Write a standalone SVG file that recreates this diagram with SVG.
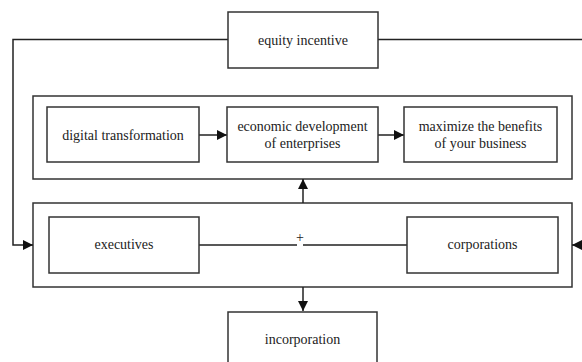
<svg xmlns="http://www.w3.org/2000/svg" width="582" height="362" viewBox="0 0 582 362">
<style>
  .box { fill: #fff; stroke: #333; stroke-width: 1.5; }
  .outer { fill: none; stroke: #333; stroke-width: 1.5; }
  .ln { fill: none; stroke: #222; stroke-width: 1.5; }
  .t { font-family: 'Times New Roman', Times, 'Liberation Serif', Tinos, 'Nimbus Roman', 'DejaVu Serif', serif; font-size: 14px; fill: #222; text-anchor: middle; }
</style>
<defs>
  <marker id="ah" viewBox="0 0 10 10" refX="10" refY="5" markerWidth="10" markerHeight="10" markerUnits="userSpaceOnUse" orient="auto">
    <path d="M0,0 L10,5 L0,10 Z" fill="#111"/>
  </marker>
</defs>
<rect width="582" height="362" fill="#fff"/>

<g id="group-top">
  <rect class="outer" x="33" y="96" width="539" height="83"/>
</g>
<g id="group-bottom">
  <rect class="outer" x="33" y="203" width="539" height="84"/>
</g>

<g id="connectors">
  <path class="ln" d="M228,39.5 H13 V245 H33" marker-end="url(#ah)"/>
  <path class="ln" d="M378,39.5 H582"/>
  <path class="ln" d="M582,245 H572" marker-end="url(#ah)"/>
  <path class="ln" d="M199,135 H227" marker-end="url(#ah)"/>
  <path class="ln" d="M378,135 H404" marker-end="url(#ah)"/>
  <path class="ln" d="M303,203 V179" marker-end="url(#ah)"/>
  <path class="ln" d="M303,287 V311" marker-end="url(#ah)"/>
  <path class="ln" d="M199,245 H297 M303,245 H407"/>
  <text class="t" x="300" y="242">+</text>
</g>

<g id="equity">
  <rect class="box" x="228" y="12" width="150" height="56"/>
  <text class="t" x="303" y="45">equity incentive</text>
</g>
<g id="digital">
  <rect class="box" x="47" y="107" width="152" height="55"/>
  <text class="t" x="123" y="140">digital transformation</text>
</g>
<g id="economic">
  <rect class="box" x="227" y="107" width="151" height="55"/>
  <text class="t" x="302.5" y="131">economic development</text>
  <text class="t" x="302.5" y="148">of enterprises</text>
</g>
<g id="maximize">
  <rect class="box" x="404" y="107" width="153" height="55"/>
  <text class="t" x="480.5" y="131">maximize the benefits</text>
  <text class="t" x="480.5" y="148">of your business</text>
</g>
<g id="executives">
  <rect class="box" x="49" y="217" width="150" height="56"/>
  <text class="t" x="124" y="249">executives</text>
</g>
<g id="corporations">
  <rect class="box" x="407" y="217" width="151" height="56"/>
  <text class="t" x="482.5" y="249">corporations</text>
</g>
<g id="incorporation">
  <rect class="box" x="228" y="312" width="149" height="60"/>
  <text class="t" x="302.5" y="344">incorporation</text>
</g>
</svg>
